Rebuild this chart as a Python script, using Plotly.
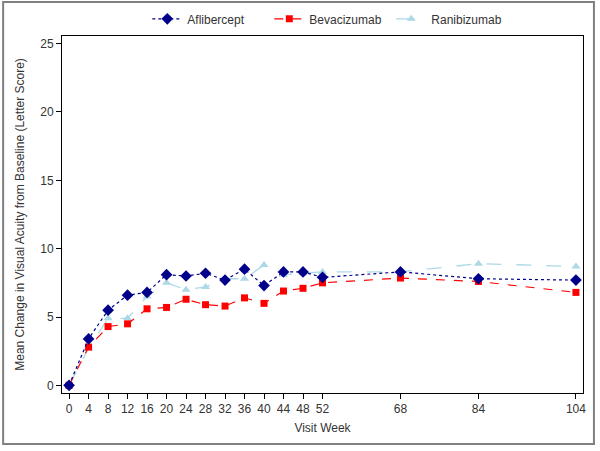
import plotly.graph_objects as go

weeks = [0, 4, 8, 12, 16, 20, 24, 28, 32, 36, 40, 44, 48, 52, 68, 84, 104]
aflibercept = [0.0, 3.4, 5.5, 6.6, 6.8, 8.1, 8.0, 8.2, 7.7, 8.5, 7.3, 8.3, 8.3, 7.9, 8.3, 7.8, 7.7]
bevacizumab = [0.0, 2.8, 4.3, 4.5, 5.6, 5.7, 6.3, 5.9, 5.8, 6.4, 6.0, 6.9, 7.1, 7.5, 7.85, 7.6, 6.8]
ranibizumab = [0.0, 2.7, 4.9, 4.9, 6.5, 7.5, 7.0, 7.2, 7.8, 7.8, 8.8, 8.1, 8.2, 8.3, 8.3, 8.9, 8.7]
y_ticks = [0, 5, 10, 15, 20, 25]

FONT = "Liberation Sans, Arial, sans-serif"

fig = go.Figure()
fig.add_trace(go.Scatter(
    x=weeks, y=ranibizumab, name="Ranibizumab", mode="lines+markers",
    line=dict(color="#ADD8E6", width=1.3, dash="longdash"),
    marker=dict(symbol="triangle-up", size=8, color="#ADD8E6"),
    legendrank=3))
fig.add_trace(go.Scatter(
    x=weeks, y=bevacizumab, name="Bevacizumab", mode="lines+markers",
    line=dict(color="#FF0000", width=1.2, dash="dash"),
    marker=dict(symbol="square", size=7, color="#FF0000"),
    legendrank=2))
fig.add_trace(go.Scatter(
    x=weeks, y=aflibercept, name="Aflibercept", mode="lines+markers",
    line=dict(color="#00008B", width=1.2, dash="dot"),
    marker=dict(symbol="diamond", size=9, color="#00008B"),
    legendrank=1))

fig.update_layout(
    width=600, height=451,
    margin=dict(l=62, r=17, t=36, b=58, autoexpand=False),
    paper_bgcolor="white", plot_bgcolor="white",
    font=dict(family=FONT, size=12, color="#333333"),
    showlegend=True,
    legend=dict(orientation="h", x=0.515, xanchor="center", y=1.048, yanchor="middle",
                font=dict(size=12, color="#333333"), traceorder="normal",
                itemwidth=30, entrywidth=77, entrywidthmode="pixels",
                bgcolor="rgba(0,0,0,0)"),
    xaxis=dict(range=[-1.45, 105.45], tickmode="array", tickvals=weeks,
               ticktext=[str(w) for w in weeks], automargin=False,
               showgrid=False, zeroline=False, showline=True, linecolor="black",
               linewidth=1, mirror=True, ticks="outside", ticklen=5,
               tickcolor="black", title=dict(text="Visit Week", standoff=8,
                                             font=dict(size=12, color="#333333"))),
    yaxis=dict(range=[-0.56, 25.56], tickmode="array", tickvals=y_ticks,
               showgrid=False, zeroline=False, showline=True, linecolor="black",
               linewidth=1, mirror=True, ticks="outside", ticklen=5,
               tickcolor="black", automargin=False,
               title=dict(text="Mean Change in Visual Acuity from Baseline (Letter Score)",
                          standoff=13, font=dict(size=12, color="#333333"))),
    shapes=[dict(type="rect", xref="paper", yref="paper",
                 x0=-0.113, x1=1.021, y0=-0.143, y1=1.095,
                 line=dict(color="#808080", width=2), fillcolor="rgba(0,0,0,0)",
                 layer="below")],
)

fig.write_html("out.html", config={"displayModeBar": False},
               post_script="document.body.style.margin='0px';document.body.style.overflow='hidden';")
